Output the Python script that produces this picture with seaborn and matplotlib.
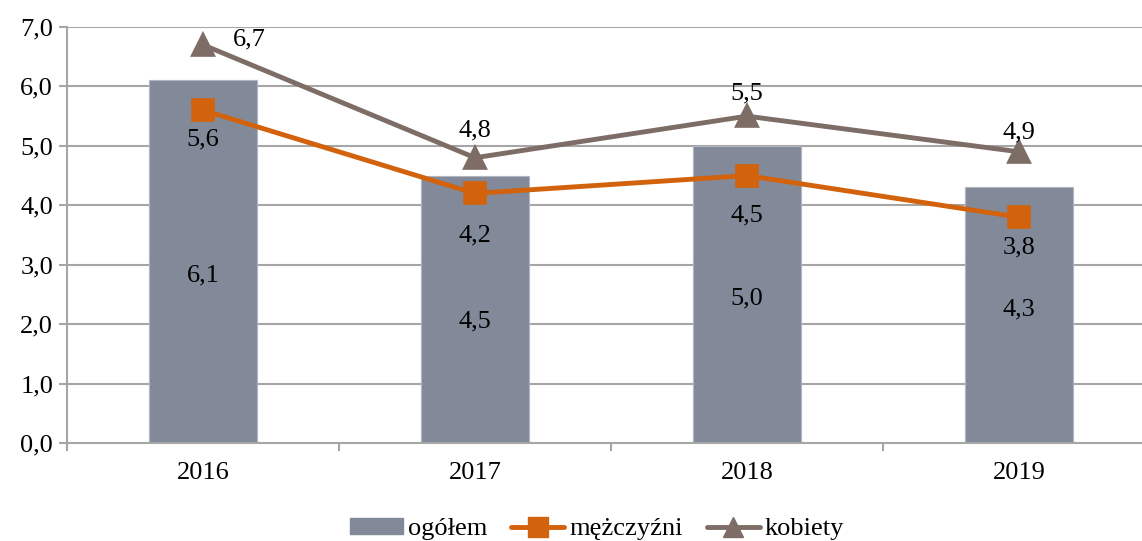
import pandas as pd
import matplotlib.pyplot as plt
import seaborn as sns
from matplotlib.patches import Patch
from matplotlib.lines import Line2D

lata = ['2016', '2017', '2018', '2019']
ogolem = [6.1, 4.5, 5.0, 4.3]
mezczyzni = [5.6, 4.2, 4.5, 3.8]
kobiety = [6.7, 4.8, 5.5, 4.9]

FONT = 'Liberation Serif'
sns.set_theme(style="white", font=FONT)
plt.rcParams['font.family'] = FONT
plt.rcParams['text.color'] = 'black'
plt.rcParams['xtick.labelcolor'] = 'black'
plt.rcParams['ytick.labelcolor'] = 'black'
GRID = "#A6A6A6"
BAR, ORANGE, BROWN = "#828A99", "#D2620C", "#7D6D66"

df = pd.DataFrame({'rok': lata, 'ogolem': ogolem,
                   'mezczyzni': mezczyzni, 'kobiety': kobiety})

fig = plt.figure(figsize=(11.42, 5.41), dpi=100)
ax = fig.add_axes([67/1142, 98/541, 1075/1142, 416/541])

ax.set_axisbelow(True)
ax.yaxis.grid(True, color=GRID, lw=1.5)
sns.barplot(data=df, x='rok', y='ogolem', color=BAR, width=0.4,
            saturation=1, edgecolor='#B0B6C0', linewidth=0.8, ax=ax)
sns.pointplot(data=df, x='rok', y='mezczyzni', color=ORANGE, markers='s',
              markersize=14, linewidth=3.5, ax=ax)
sns.pointplot(data=df, x='rok', y='kobiety', color=BROWN, markers='^',
              markersize=15, linewidth=3.5, ax=ax)

ax.set_ylim(0, 7)
ax.set_xlim(-0.5, -0.5 + 1075/272)
ax.set_yticks([0, 1, 2, 3, 4, 5, 6, 7])
ax.set_yticklabels([f'{v:.1f}'.replace('.', ',') for v in range(8)],
                   family=FONT)
ax.set_xticks(range(len(lata)))
ax.set_xticklabels(lata, family=FONT)
ax.set_xticks([-0.5, 0.5, 1.5, 2.5], minor=True)
ax.tick_params(axis='x', which='major', length=0, pad=14, labelsize=19)
ax.tick_params(axis='x', which='minor', length=6, width=1.5, color=GRID,
               direction='out', bottom=True)
ax.tick_params(axis='y', length=6, width=1.5, color=GRID, direction='out',
               left=True, labelsize=19, pad=4)
ax.set_xlabel('')
ax.set_ylabel('')
for s in ['top', 'right']:
    ax.spines[s].set_visible(False)
for s in ['left', 'bottom']:
    ax.spines[s].set_color(GRID)
    ax.spines[s].set_linewidth(1.5)

fmt = lambda v: f'{v:.1f}'.replace('.', ',')
# przesunięcia etykiet (w punktach), jak w oryginale
bar_off = [-10, -9, -3, 4]
m_off = [-21, -30, -29, -22]
k_off = [(33, 4), (0, 20), (0, 16), (0, 14)]
for i, v in enumerate(ogolem):
    ax.annotate(fmt(v), (i, v / 2), xytext=(0, bar_off[i]), family=FONT,
                textcoords='offset points', ha='center', va='center',
                fontsize=19, color='black')
for i, v in enumerate(mezczyzni):
    ax.annotate(fmt(v), (i, v), xytext=(0, m_off[i]), textcoords='offset points',
                ha='center', va='center', fontsize=19, family=FONT, color='black')
for i, v in enumerate(kobiety):
    ax.annotate(fmt(v), (i, v), xytext=k_off[i], textcoords='offset points',
                ha='center', va='center', fontsize=19, family=FONT, color='black')

handles = [Patch(facecolor=BAR, edgecolor=BAR),
           Line2D([], [], color=ORANGE, lw=3.5, marker='s', markersize=14),
           Line2D([], [], color=BROWN, lw=3.5, marker='^', markersize=15)]
fig.legend(handles, ['ogółem', 'mężczyźni', 'kobiety'], loc='center',
           bbox_to_anchor=(0.523, 0.022), ncol=3, frameon=False,
           prop={'family': FONT, 'size': 19},
           handlelength=2.0, handleheight=0.55, handletextpad=0.2,
           columnspacing=0.9)

plt.savefig('out.png', dpi=100)
